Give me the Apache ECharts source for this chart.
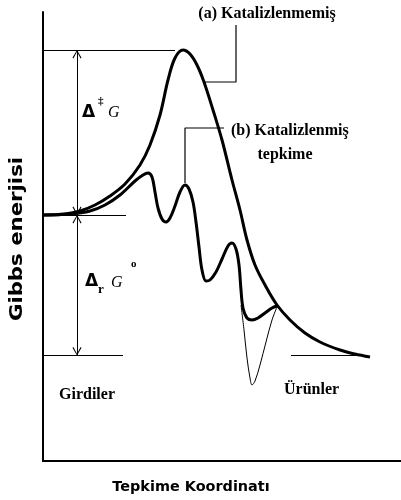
<!DOCTYPE html>
<html><head><meta charset="utf-8">
<script src="https://cdn.jsdelivr.net/npm/echarts@6/dist/echarts.min.js"></script>
<style>html,body{margin:0;padding:0;background:#fff}#c{width:401px;height:500px}</style>
</head><body><div id="c"></div>
<script>
// Reaction coordinate (arbitrary units) and Gibbs energy (arbitrary units)
const uncatX = [0,22,37,52,67,82,97,107,117,125,132,140,147,154,161,170,179,189,197,204,212,222,234,247,262,277,297,312,327];
const uncatG = [246,247,250,256,265,277,296,316,346,381,403,411,407,396,379,351,321,281,251,221,196,176,156,141,128,119,111,107,104];
const catX = [0,27,47,62,77,92,100,105,109,112,115,119,123,127,132,137,142,146,150,153,156,159,163,167,173,179,185,189,193,196,198,200,204,209,215,222,229,234];
const catG = [246,247,250,256,266,280,286,288,284,269,253,242,239,243,255,269,276,272,259,239,214,191,180,181,189,202,215,218,212,196,171,153,143,141,143,148,153,155];
const wellX = [198,201,204,207,209,212,217,223,229,234];
const wellG = [156,131,103,83,76,80,96,119,141,154];
// Energy levels
const levelTS = 411, levelReact = 246, levelProd = 105.5;
const arrowX = 34;
// connectors of the labels
const connA = [[193,436],[193,379],[161,379]];
const connB = [[181,333],[142,333],[142,278]];

const zip = (xs, ys) => xs.map((x, i) => [x, ys[i]]);
// open chevron, tip at the symbol centre (invisible point balances the bounding box)
const chev = 'path://M5,0 L10,10 L9,10.8 L5,2.2 L1,10.8 L0,10 Z M5,-10.8 L5,-10.8 Z';
const serif = '"Liberation Serif", "DejaVu Serif", serif';
const sans = '"DejaVu Sans", sans-serif';
const arrowSym = {symbol: chev, symbolSize: [9, 17]};

const chart = echarts.init(document.getElementById('c'));
chart.setOption({
  animation: false,
  grid: {left: 43, top: 12, right: 0, bottom: 39},
  xAxis: {type: 'value', min: 0, max: 358, axisLine: {lineStyle: {color: '#000', width: 2}}, axisTick: {show: false}, axisLabel: {show: false}, splitLine: {show: false}},
  yAxis: {type: 'value', min: 0, max: 449, axisLine: {show: true, lineStyle: {color: '#000', width: 2}}, axisTick: {show: false}, axisLabel: {show: false}, splitLine: {show: false}},
  series: [
    {type: 'line', data: zip(wellX, wellG), smooth: 0.35, symbol: 'none', lineStyle: {color: '#000', width: 1}},
    {type: 'line', data: zip(uncatX, uncatG), smooth: 0.35, symbol: 'none', lineStyle: {color: '#000', width: 3}},
    {type: 'line', data: zip(catX, catG), smooth: 0.35, symbol: 'none', lineStyle: {color: '#000', width: 3}},
    {type: 'line', data: connA, symbol: 'none', lineStyle: {color: '#000', width: 1.2}},
    {type: 'line', data: connB, symbol: 'none', lineStyle: {color: '#000', width: 1.2}},
    {type: 'line', data: [], markLine: {
      silent: true, animation: false, label: {show: false},
      lineStyle: {color: '#000', width: 1, type: 'solid'},
      symbol: ['none', 'none'],
      data: [
        [{coord: [0, levelTS]}, {coord: [132, levelTS]}],
        [{coord: [0, levelReact]}, {coord: [83, levelReact]}],
        [{coord: [0, levelProd]}, {coord: [80, levelProd]}],
        [{coord: [248, levelProd]}, {coord: [322, levelProd]}],
        [Object.assign({coord: [arrowX, levelTS]}, arrowSym), Object.assign({coord: [arrowX, levelReact]}, arrowSym)],
        [Object.assign({coord: [arrowX, levelReact]}, arrowSym), Object.assign({coord: [arrowX, levelProd]}, arrowSym)]
      ]
    }}
  ],
  graphic: [
    {type: 'text', x: 267, y: 14, style: {text: '(a) Katalizlenmemiş', font: 'bold 16px ' + serif, fill: '#000', align: 'center', verticalAlign: 'middle'}},
    {type: 'text', x: 231, y: 131, style: {text: '(b) Katalizlenmiş', font: 'bold 16px ' + serif, fill: '#000', align: 'left', verticalAlign: 'middle'}},
    {type: 'text', x: 285, y: 155, style: {text: 'tepkime', font: 'bold 16px ' + serif, fill: '#000', align: 'center', verticalAlign: 'middle'}},
    {type: 'text', x: 82, y: 113, style: {text: 'Δ', font: 'bold 17px ' + sans, fill: '#000', align: 'left', verticalAlign: 'middle'}},
    {type: 'text', x: 98, y: 101, style: {text: '‡', font: 'bold 11px ' + serif, fill: '#000', align: 'left', verticalAlign: 'middle'}},
    {type: 'text', x: 108, y: 113, style: {text: 'G', font: 'italic 16px ' + serif, fill: '#000', align: 'left', verticalAlign: 'middle'}},
    {type: 'text', x: 85, y: 282, style: {text: 'Δ', font: 'bold 17px ' + sans, fill: '#000', align: 'left', verticalAlign: 'middle'}},
    {type: 'text', x: 98, y: 290, style: {text: 'r', font: 'bold 13px ' + serif, fill: '#000', align: 'left', verticalAlign: 'middle'}},
    {type: 'text', x: 111, y: 283, style: {text: 'G', font: 'italic 16px ' + serif, fill: '#000', align: 'left', verticalAlign: 'middle'}},
    {type: 'text', x: 131, y: 264, style: {text: 'o', font: 'bold 11px ' + serif, fill: '#000', align: 'left', verticalAlign: 'middle'}},
    {type: 'text', x: 59, y: 395, style: {text: 'Girdiler', font: 'bold 16px ' + serif, fill: '#000', align: 'left', verticalAlign: 'middle'}},
    {type: 'text', x: 284, y: 390, style: {text: 'Ürünler', font: 'bold 16px ' + serif, fill: '#000', align: 'left', verticalAlign: 'middle'}},
    {type: 'text', x: 18, y: 239, rotation: Math.PI / 2, scaleX: 1.25, style: {text: 'Gibbs enerjisi', font: 'bold 17px ' + sans, fill: '#000', align: 'center', verticalAlign: 'middle'}},
    {type: 'text', x: 191, y: 487, scaleX: 1.03, style: {text: 'Tepkime Koordinatı', font: 'bold 14px ' + sans, fill: '#000', align: 'center', verticalAlign: 'middle'}}
  ]
});
</script></body></html>
